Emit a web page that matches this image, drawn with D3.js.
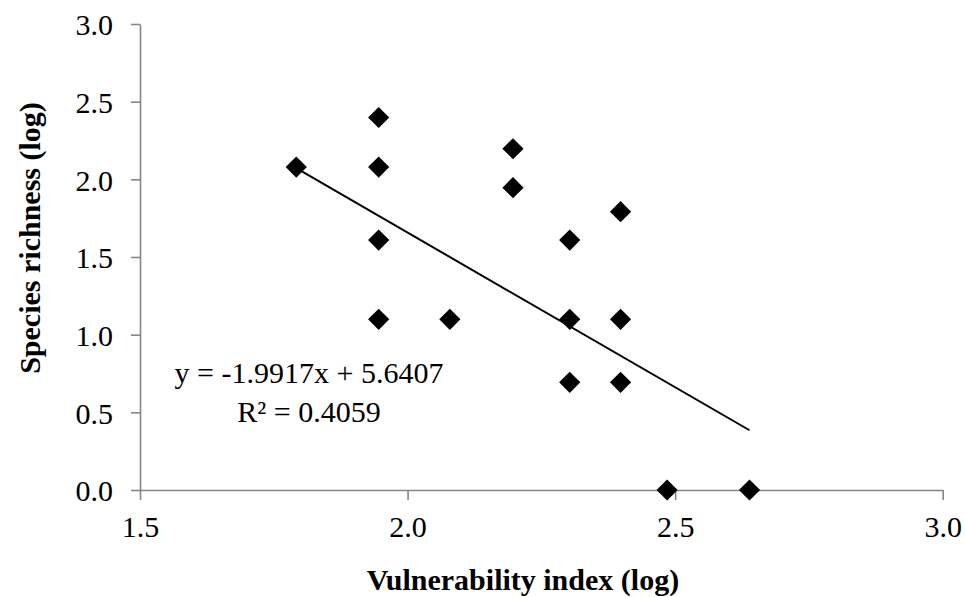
<!DOCTYPE html>
<html>
<head>
<meta charset="utf-8">
<script src="https://cdn.jsdelivr.net/npm/d3@7"></script>
<style>
  html, body { margin: 0; padding: 0; background: #fff; }
  svg { display: block; }
  text { font-family: "Liberation Serif", "Times New Roman", serif; fill: #000; }
</style>
</head>
<body>
<svg id="chart" width="965" height="597"></svg>
<script>
// Vulnerability index (log) vs species richness (log)
const vulnerability = [1.792, 1.946, 1.946, 1.946, 1.946, 2.079, 2.197, 2.197, 2.303, 2.303, 2.303, 2.398, 2.398, 2.398, 2.485, 2.639];
const richness      = [2.079, 2.398, 2.079, 1.609, 1.099, 1.099, 2.197, 1.946, 1.609, 1.099, 0.693, 1.792, 1.099, 0.693, 0.000, 0.000];

const xTicks = [1.5, 2.0, 2.5, 3.0];
const yTicks = [0.0, 0.5, 1.0, 1.5, 2.0, 2.5, 3.0];

// Linear trendline coefficients
const slope = -1.9917;
const intercept = 5.6407;
const rSquared = 0.4059;

const xTitle = "Vulnerability index (log)";
const yTitle = "Species richness (log)";

const svg = d3.select("#chart");

const x = d3.scaleLinear().domain([1.5, 3.0]).range([140, 942.7]);
const y = d3.scaleLinear().domain([0, 3.0]).range([490, 24]);

const fmt = d3.format(".1f");
const axisColor = "#868686";

// Y axis
const gy = svg.append("g")
  .attr("transform", `translate(${x(1.5)},0)`)
  .call(d3.axisLeft(y).tickValues(yTicks).tickFormat(fmt)
    .tickSizeInner(9).tickSizeOuter(0).tickPadding(18));
gy.selectAll("text").attr("dy", "0.36em").style("font-size", "30px")
  .style("font-family", "'Liberation Serif', 'Times New Roman', serif");

// X axis
const gx = svg.append("g")
  .attr("transform", `translate(0,${y(0)})`)
  .call(d3.axisBottom(x).tickValues(xTicks).tickFormat(fmt)
    .tickSizeInner(10).tickSizeOuter(0).tickPadding(16));
gx.selectAll("text").style("font-size", "30px")
  .style("font-family", "'Liberation Serif', 'Times New Roman', serif");

svg.selectAll(".domain, .tick line")
  .attr("stroke", axisColor).attr("stroke-width", 1.6);

// Trendline over the range of observed x values
const xr = d3.extent(vulnerability);
svg.append("line")
  .attr("x1", x(xr[0])).attr("y1", y(slope * xr[0] + intercept))
  .attr("x2", x(xr[1])).attr("y2", y(slope * xr[1] + intercept))
  .attr("stroke", "#000").attr("stroke-width", 2);

// Diamond markers
const diamond = d3.symbol().type(d3.symbolSquare).size(225);
svg.append("g").selectAll("path")
  .data(vulnerability.map((v, i) => [v, richness[i]]))
  .join("path")
  .attr("d", diamond)
  .attr("transform", d => `translate(${x(d[0])},${y(d[1])}) rotate(45)`)
  .attr("fill", "#000");

// Trendline equation
const eq = svg.append("text")
  .attr("text-anchor", "middle")
  .style("font-size", "30px");
eq.append("tspan").attr("x", 309).attr("y", 383)
  .text(`y = ${slope}x + ${intercept}`);
eq.append("tspan").attr("x", 309).attr("y", 422)
  .text(`R² = ${rSquared}`);

// Axis titles
svg.append("text")
  .attr("x", 523).attr("y", 590)
  .attr("text-anchor", "middle")
  .style("font-size", "30px").style("font-weight", "bold")
  .text(xTitle);

svg.append("text")
  .attr("transform", "translate(40,238) rotate(-90)")
  .attr("text-anchor", "middle")
  .style("font-size", "30px").style("font-weight", "bold")
  .text(yTitle);
</script>
</body>
</html>
